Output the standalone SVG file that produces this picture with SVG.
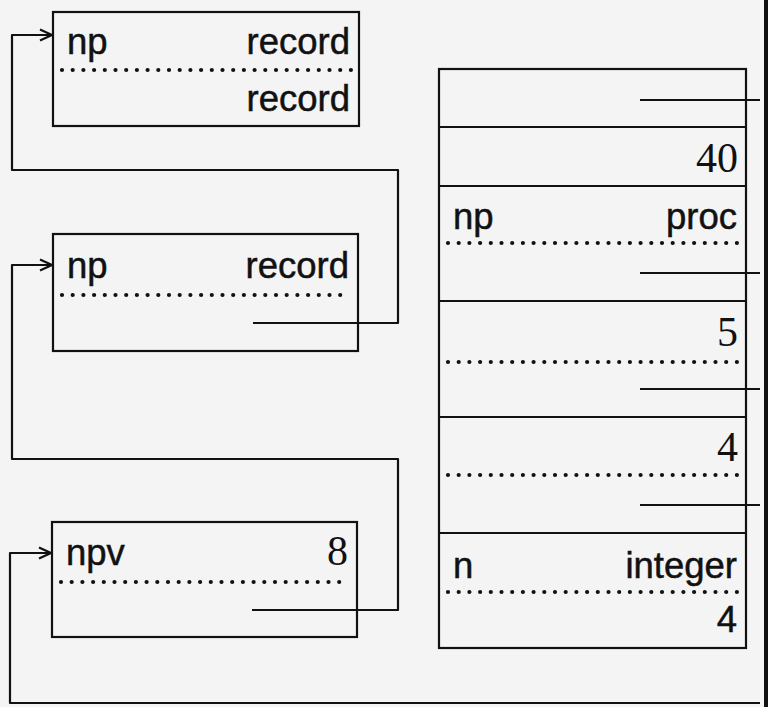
<svg xmlns="http://www.w3.org/2000/svg" width="768" height="707" viewBox="0 0 768 707">
<style>
.box{fill:none;stroke:#111;stroke-width:2.2}
.sep{stroke:#111;stroke-width:2.2}
.dot{stroke:#111;stroke-width:4.2;stroke-linecap:round;stroke-dasharray:0 10.7;fill:none}
.conn{fill:none;stroke:#111;stroke-width:2.2;stroke-linejoin:round}
.s{font-family:"Liberation Sans",Arial,sans-serif;font-size:36.5px;fill:#111;stroke:#111;stroke-width:0.5}
.r{font-family:"Liberation Serif","Times New Roman",serif;font-size:42px;fill:#111}
.e{text-anchor:end}
</style>
<defs>
<marker id="arr" markerWidth="14" markerHeight="14" viewBox="0 0 14 14" refX="13" refY="7" orient="auto" markerUnits="userSpaceOnUse">
<path d="M1,1.5 L13,7 L1,12.5" fill="none" stroke="#111" stroke-width="2.2"/>
</marker>
</defs>
<rect width="768" height="707" fill="#f4f4f4"/>
<rect x="764" y="0" width="4" height="707" fill="#111"/>

<g id="box1">
<rect class="box" x="53" y="12" width="306" height="114"/>
<text class="s" x="67" y="54">np</text>
<text class="s e" x="350" y="54">record</text>
<line class="dot" x1="62" y1="70" x2="352" y2="70"/>
<text class="s e" x="350" y="111">record</text>
</g>

<g id="box2">
<rect class="box" x="53" y="234" width="305" height="117"/>
<text class="s" x="67" y="278">np</text>
<text class="s e" x="349" y="278">record</text>
<line class="dot" x1="62" y1="295" x2="350" y2="295"/>
</g>

<g id="box3">
<rect class="box" x="52" y="522" width="305" height="115"/>
<text class="s" x="66" y="565">npv</text>
<text class="r e" x="348" y="565">8</text>
<line class="dot" x1="61" y1="582" x2="349" y2="582"/>
</g>

<g id="stack">
<rect class="box" x="439" y="69" width="307" height="579"/>
<line class="sep" x1="439" y1="127" x2="746" y2="127"/>
<line class="sep" x1="439" y1="186" x2="746" y2="186"/>
<line class="sep" x1="439" y1="301" x2="746" y2="301"/>
<line class="sep" x1="439" y1="417" x2="746" y2="417"/>
<line class="sep" x1="439" y1="533" x2="746" y2="533"/>
<text class="r e" x="738" y="172">40</text>
<text class="s" x="453" y="229">np</text>
<text class="s e" x="737" y="229">proc</text>
<line class="dot" x1="448" y1="243" x2="738" y2="243"/>
<text class="r e" x="738" y="346">5</text>
<line class="dot" x1="448" y1="362" x2="738" y2="362"/>
<text class="r e" x="738" y="461">4</text>
<line class="dot" x1="448" y1="475" x2="738" y2="475"/>
<text class="s" x="453" y="578">n</text>
<text class="s e" x="737" y="578">integer</text>
<line class="dot" x1="448" y1="592" x2="738" y2="592"/>
<text class="s e" x="737" y="632">4</text>
</g>

<g id="connectors">
<path class="conn" d="M253,323 H398 V170 H12 V35 H52" marker-end="url(#arr)"/>
<path class="conn" d="M252,610 H398 V459 H12 V265 H52" marker-end="url(#arr)"/>
<path class="conn" d="M760,703 H10 V553 H51" marker-end="url(#arr)"/>
<line class="sep" x1="640" y1="100" x2="760" y2="100"/>
<line class="sep" x1="640" y1="273" x2="760" y2="273"/>
<line class="sep" x1="640" y1="389" x2="760" y2="389"/>
<line class="sep" x1="640" y1="505" x2="760" y2="505"/>
</g>
</svg>
